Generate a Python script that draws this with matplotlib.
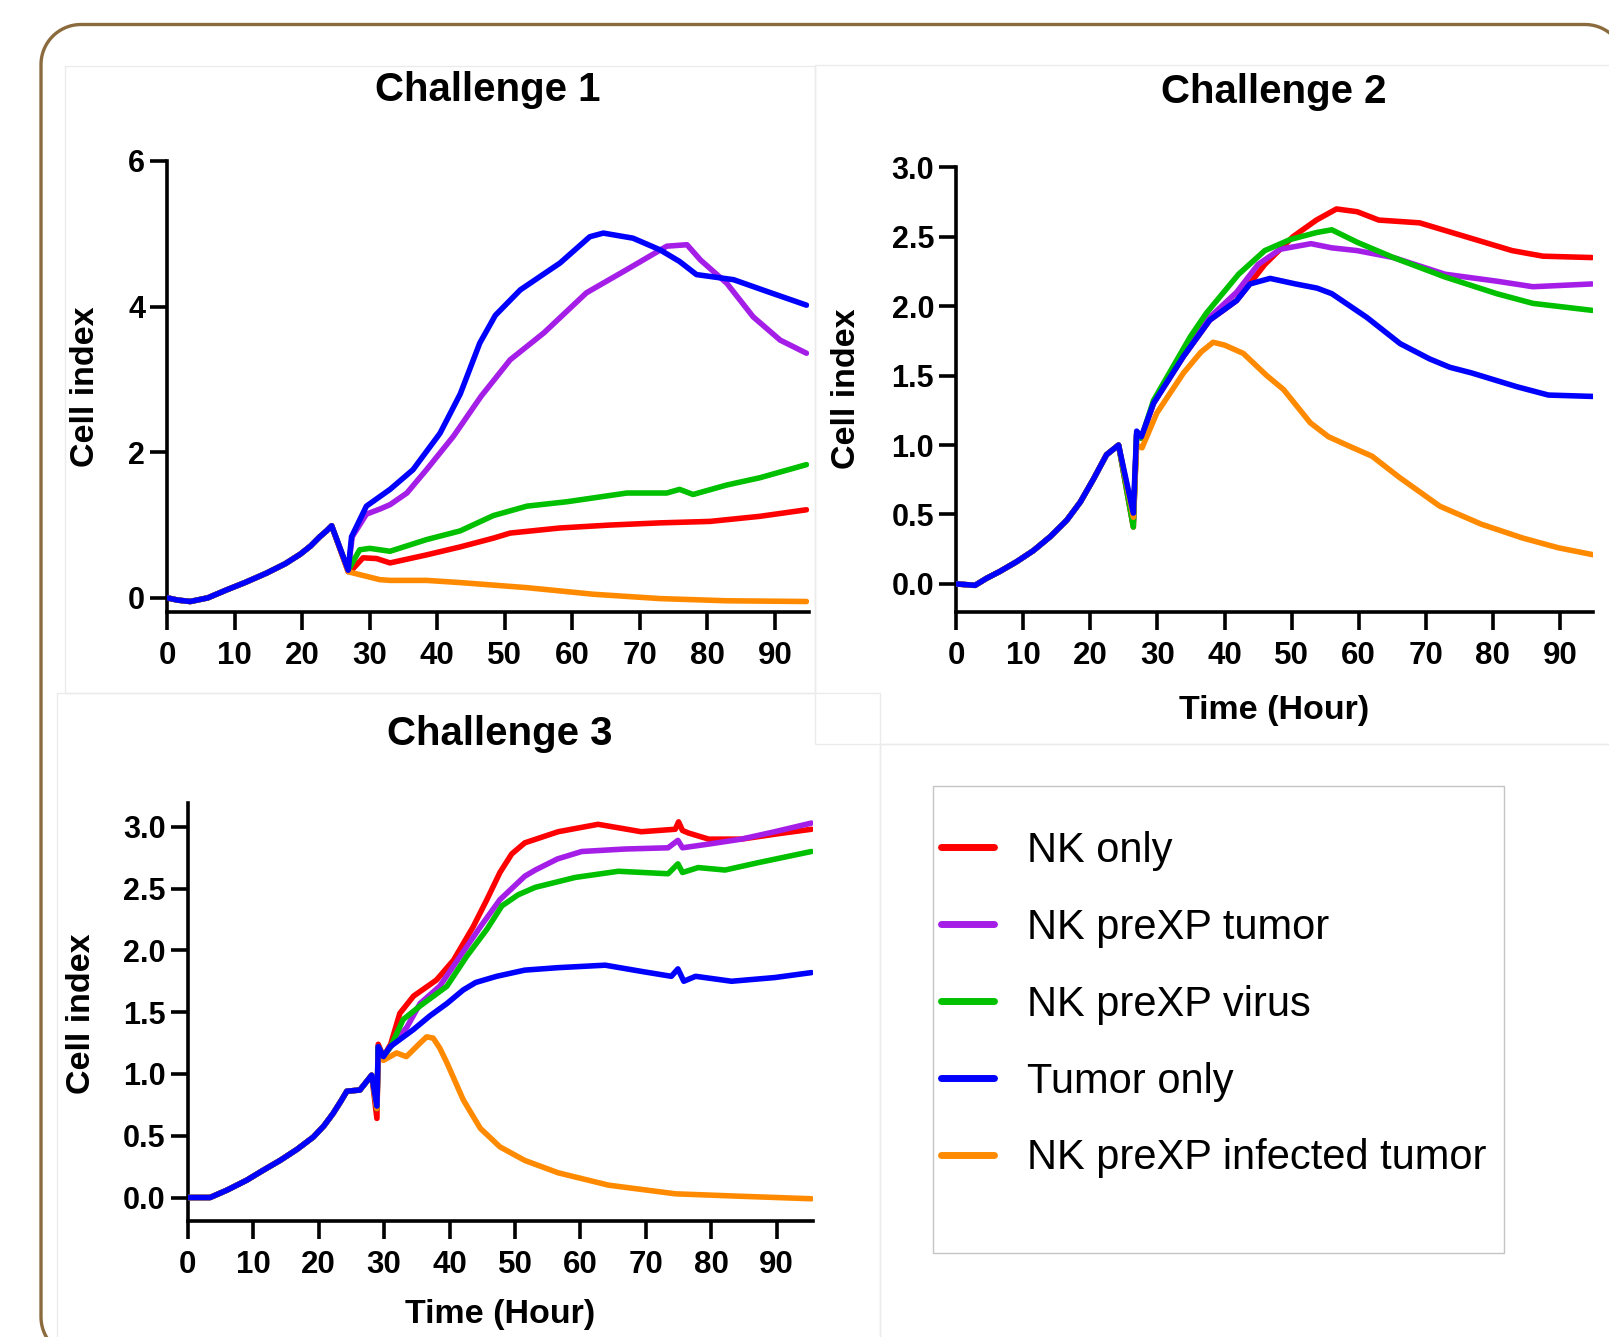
import matplotlib
matplotlib.use("Agg")
import numpy as np
import matplotlib.pyplot as plt
from matplotlib.patches import Rectangle, PathPatch
from matplotlib.path import Path

plt.rcParams['font.family'] = ['Liberation Sans', 'DejaVu Sans']

W, H = 1609, 1337

# ---------------- data (hours, cell index) ----------------
labels = ["NK only", "NK preXP tumor", "NK preXP virus", "Tumor only", "NK preXP infected tumor"]
colors = ["#ff0000", "#a41ee8", "#00c000", "#0000ff", "#ff8a00"]
zorders = [2, 3, 4, 6, 5]

# Challenge 1 -- common part before NK addition
c1_t0 = [0, 1.5, 3.4, 6.0, 8.8, 11.5, 14.7, 17.5, 19.7, 21.2, 22.6, 23.6, 24.35]
c1_v0 = [0, -0.03, -0.05, 0.0, 0.11, 0.21, 0.34, 0.47, 0.60, 0.71, 0.84, 0.92, 0.99]
c1_red_t = [26.8, 27.5, 29.0, 31.0, 33.0, 38.4, 43.4, 48.3, 50.8, 58.2, 65.6, 73.0, 80.4, 87.8, 94.7]
c1_red_v = [0.36, 0.40, 0.55, 0.54, 0.48, 0.59, 0.70, 0.82, 0.89, 0.96, 1.00, 1.03, 1.05, 1.12, 1.21]
c1_pur_t = [26.8, 27.4, 29.5, 31.5, 33.0, 35.5, 38.4, 42.4, 46.5, 50.8, 55.8, 62.1, 68.1, 74.0, 77.0, 79.0, 82.9, 86.8, 90.8, 94.7]
c1_pur_v = [0.38, 0.84, 1.15, 1.22, 1.28, 1.44, 1.76, 2.22, 2.77, 3.27, 3.64, 4.19, 4.51, 4.83, 4.85, 4.64, 4.32, 3.86, 3.54, 3.36]
c1_grn_t = [26.8, 28.5, 30.0, 33.0, 38.4, 43.4, 48.3, 53.3, 59.2, 68.1, 74.0, 75.9, 77.9, 82.9, 87.8, 94.7]
c1_grn_v = [0.38, 0.66, 0.68, 0.64, 0.80, 0.92, 1.13, 1.26, 1.32, 1.44, 1.44, 1.49, 1.42, 1.55, 1.65, 1.83]
c1_blu_t = [26.8, 27.3, 29.5, 33.0, 36.4, 40.4, 43.4, 46.3, 48.6, 52.3, 58.2, 62.6, 64.6, 69.0, 73.0, 75.9, 78.4, 83.9, 88.8, 94.7]
c1_blu_v = [0.38, 0.84, 1.26, 1.49, 1.76, 2.26, 2.80, 3.50, 3.88, 4.23, 4.60, 4.96, 5.01, 4.94, 4.78, 4.62, 4.44, 4.37, 4.21, 4.02]
c1_org_t = [26.8, 27.6, 31.5, 33.0, 38.4, 43.4, 53.3, 63.1, 73.0, 82.9, 94.7]
c1_org_v = [0.36, 0.34, 0.25, 0.24, 0.24, 0.21, 0.14, 0.05, -0.01, -0.04, -0.05]

# Challenge 2
c2_t0 = [0, 2.8, 4.5, 6.5, 9.0, 11.5, 14.0, 16.5, 18.5, 20.4, 22.4, 24.2]
c2_v0 = [0, -0.01, 0.04, 0.09, 0.16, 0.24, 0.34, 0.46, 0.59, 0.75, 0.93, 1.00]
c2_red_t = [26.4, 26.9, 27.6, 29.4, 33.9, 37.8, 41.8, 46.0, 50.2, 53.7, 56.7, 59.8, 63.0, 69.1, 76.0, 82.9, 87.5, 94.8]
c2_red_v = [0.41, 1.08, 1.05, 1.30, 1.64, 1.90, 2.04, 2.30, 2.50, 2.62, 2.70, 2.68, 2.62, 2.60, 2.50, 2.40, 2.36, 2.35]
c2_pur_t = [26.4, 26.9, 27.6, 29.4, 33.9, 37.8, 41.8, 45.0, 48.3, 52.9, 56.0, 59.8, 65.2, 72.9, 80.6, 86.0, 94.8]
c2_pur_v = [0.45, 1.08, 1.05, 1.30, 1.66, 1.92, 2.10, 2.30, 2.41, 2.45, 2.42, 2.40, 2.35, 2.23, 2.18, 2.14, 2.16]
c2_grn_t = [26.4, 26.9, 27.6, 29.4, 34.9, 37.3, 42.1, 46.0, 49.8, 53.7, 56.0, 59.8, 65.2, 72.9, 80.6, 86.0, 94.8]
c2_grn_v = [0.41, 1.08, 1.05, 1.32, 1.78, 1.95, 2.23, 2.40, 2.48, 2.53, 2.55, 2.46, 2.35, 2.21, 2.09, 2.02, 1.97]
c2_blu_t = [26.4, 26.9, 27.6, 29.4, 33.9, 37.8, 41.8, 43.8, 46.8, 50.6, 53.8, 56.0, 61.2, 66.2, 70.6, 73.6, 76.8, 83.6, 88.3, 95.0]
c2_blu_v = [0.51, 1.10, 1.06, 1.30, 1.64, 1.90, 2.04, 2.16, 2.20, 2.16, 2.13, 2.09, 1.92, 1.73, 1.62, 1.56, 1.52, 1.42, 1.36, 1.35]
c2_org_t = [26.4, 26.9, 27.7, 29.9, 33.9, 36.5, 38.3, 40.0, 42.8, 46.3, 48.8, 52.8, 55.5, 58.7, 62.0, 66.0, 72.1, 78.3, 84.5, 89.8, 95.0]
c2_org_v = [0.48, 1.00, 0.98, 1.23, 1.52, 1.67, 1.74, 1.72, 1.66, 1.50, 1.40, 1.16, 1.06, 0.99, 0.92, 0.77, 0.56, 0.43, 0.33, 0.26, 0.21]

# Challenge 3
c3_t0 = [0, 3.4, 6.0, 9.0, 11.5, 14.1, 16.7, 19.2, 20.8, 22.2, 23.4, 24.3, 26.3, 28.1]
c3_v0 = [0, 0, 0.06, 0.14, 0.22, 0.30, 0.39, 0.49, 0.58, 0.68, 0.78, 0.86, 0.87, 0.99]
c3_red_t = [28.9, 29.1, 29.9, 31.0, 32.4, 34.5, 38.0, 40.6, 43.6, 45.7, 47.7, 49.5, 51.5, 56.6, 62.7, 69.3, 74.5, 75.0, 75.6, 76.5, 79.6, 84.6, 89.7, 95.3]
c3_red_v = [0.64, 1.24, 1.14, 1.24, 1.49, 1.63, 1.76, 1.92, 2.19, 2.41, 2.63, 2.78, 2.87, 2.96, 3.02, 2.96, 2.98, 3.04, 2.97, 2.95, 2.90, 2.90, 2.94, 2.98]
c3_pur_t = [28.9, 29.1, 29.9, 31.0, 33.5, 35.5, 38.5, 41.6, 44.7, 47.7, 51.5, 53.1, 56.5, 60.2, 66.8, 73.4, 74.9, 75.6, 79.6, 84.6, 89.7, 95.3]
c3_pur_v = [0.72, 1.22, 1.14, 1.22, 1.38, 1.57, 1.71, 1.95, 2.19, 2.41, 2.60, 2.65, 2.74, 2.80, 2.82, 2.83, 2.89, 2.83, 2.86, 2.90, 2.96, 3.03]
c3_grn_t = [28.9, 29.1, 29.9, 31.0, 32.9, 35.5, 39.6, 42.6, 45.7, 48.0, 50.5, 53.1, 59.2, 65.8, 73.4, 74.9, 75.6, 78.0, 82.1, 87.2, 95.3]
c3_grn_v = [0.72, 1.22, 1.14, 1.22, 1.44, 1.55, 1.71, 1.95, 2.17, 2.36, 2.45, 2.51, 2.59, 2.64, 2.62, 2.70, 2.63, 2.67, 2.65, 2.71, 2.80]
c3_blu_t = [28.9, 29.1, 29.9, 30.9, 34.5, 37.0, 39.6, 42.1, 44.0, 47.2, 51.5, 56.6, 63.8, 69.3, 73.9, 74.9, 75.8, 77.6, 83.1, 89.7, 95.3]
c3_blu_v = [0.74, 1.22, 1.14, 1.22, 1.36, 1.47, 1.57, 1.68, 1.74, 1.79, 1.84, 1.86, 1.88, 1.83, 1.79, 1.85, 1.75, 1.79, 1.75, 1.78, 1.82]
c3_org_t = [28.9, 29.1, 29.9, 31.9, 33.4, 35.5, 36.5, 37.5, 38.5, 39.6, 42.1, 44.7, 47.7, 51.5, 56.6, 64.3, 74.5, 84.6, 95.3]
c3_org_v = [0.72, 1.15, 1.11, 1.17, 1.14, 1.25, 1.30, 1.29, 1.21, 1.09, 0.79, 0.56, 0.41, 0.30, 0.20, 0.10, 0.03, 0.01, -0.01]

x_ticks = [0, 10, 20, 30, 40, 50, 60, 70, 80, 90]
y_ticks_1 = [0, 2, 4, 6]
y_ticks_23 = [0.0, 0.5, 1.0, 1.5, 2.0, 2.5, 3.0]

panels = [
    dict(title="Challenge 1", t0=c1_t0, v0=c1_v0,
         series=[(c1_red_t, c1_red_v), (c1_pur_t, c1_pur_v), (c1_grn_t, c1_grn_v), (c1_blu_t, c1_blu_v), (c1_org_t, c1_org_v)],
         box=(167.3, 161.0, 808.5, 611.7), xlim=(0, 95.0), ylim=(-0.19, 6.0), yticks=y_ticks_1, yfmt="{:.0f}",
         title_xy=(488, 90), ylabel_xy=(86, 387), xlabel_xy=None),
    dict(title="Challenge 2", t0=c2_t0, v0=c2_v0,
         series=[(c2_red_t, c2_red_v), (c2_pur_t, c2_pur_v), (c2_grn_t, c2_grn_v), (c2_blu_t, c2_blu_v), (c2_org_t, c2_org_v)],
         box=(956.3, 167.3, 1593.3, 611.7), xlim=(0, 95.0), ylim=(-0.2, 3.0), yticks=y_ticks_23, yfmt="{:.1f}",
         title_xy=(1274, 92), ylabel_xy=(847, 389), xlabel_xy=(1274, 710)),
    dict(title="Challenge 3", t0=c3_t0, v0=c3_v0,
         series=[(c3_red_t, c3_red_v), (c3_pur_t, c3_pur_v), (c3_grn_t, c3_grn_v), (c3_blu_t, c3_blu_v), (c3_org_t, c3_org_v)],
         box=(187.8, 803.3, 812.7, 1221.0), xlim=(0, 95.5), ylim=(-0.19, 3.19), yticks=y_ticks_23, yfmt="{:.1f}",
         title_xy=(500, 734), ylabel_xy=(82, 1014), xlabel_xy=(500, 1315)),
]

fig = plt.figure(figsize=(W / 100, H / 100), dpi=100)
fig.patch.set_facecolor("white")


def fx(px):
    return px / W


def fy(py):
    return 1 - py / H


# faint panel outlines
for (x0, y0, x1, y1) in [(65, 66, 815, 693), (815, 65, 1620, 744), (57, 693, 880, 1345), (880, 744, 1620, 1345)]:
    fig.add_artist(Rectangle((fx(x0), fy(y1)), fx(x1) - fx(x0), fy(y0) - fy(y1), transform=fig.transFigure,
                             fill=False, edgecolor="#ebebeb", linewidth=1.0, zorder=0))

# rounded brown frame (polyline, extends past right and bottom edges)
fr_l, fr_t, fr_r, fr_b, rad = 41, 24.5, 1625, 1357, 40
corner_specs = [((fr_l + rad, fr_t + rad), 180, 270),   # top-left
                ((fr_r - rad, fr_t + rad), 270, 360),   # top-right
                ((fr_r - rad, fr_b - rad), 0, 90),      # bottom-right
                ((fr_l + rad, fr_b - rad), 90, 180)]    # bottom-left
pts = []
for (cx, cy), a0, a1 in corner_specs:
    ang = np.radians(np.linspace(a0, a1, 24))
    for a in ang:
        pts.append((fx(cx + rad * np.cos(a)), fy(cy + rad * np.sin(a))))
pts.append(pts[0])
frame_path = Path(pts)
fig.add_artist(PathPatch(frame_path, transform=fig.transFigure, fill=False,
                         edgecolor="#8b6b3d", linewidth=2.4, zorder=1))

handles = None
for p in panels:
    l, t, r, b = p["box"]
    ax = fig.add_axes([fx(l), fy(b), fx(r) - fx(l), fy(t) - fy(b)])
    ax.set_facecolor("none")
    lines = []
    for (ts, vs), c, lab, z in zip(p["series"], colors, labels, zorders):
        ln, = ax.plot(list(p["t0"]) + list(ts), list(p["v0"]) + list(vs), color=c, lw=4.0, label=lab,
                      zorder=z, solid_joinstyle="round", solid_capstyle="round")
        lines.append(ln)
    if handles is None:
        handles = lines
    ax.set_xlim(*p["xlim"])
    ax.set_ylim(*p["ylim"])
    ax.set_xticks(x_ticks)
    ax.set_xticklabels([str(v) for v in x_ticks], fontsize=22.5, fontweight="bold")
    ax.set_yticks(p["yticks"])
    ax.set_yticklabels([p["yfmt"].format(v) for v in p["yticks"]], fontsize=22, fontweight="bold")
    for s in ["top", "right"]:
        ax.spines[s].set_visible(False)
    for s in ["left", "bottom"]:
        ax.spines[s].set_linewidth(2.6)
    ax.tick_params(axis="x", length=12.8, width=2.6, pad=8)
    ax.tick_params(axis="y", length=12, width=2.6, pad=4)
    fig.text(fx(p["title_xy"][0]), fy(p["title_xy"][1]), p["title"], ha="center", va="center",
             fontsize=29, fontweight="bold")
    fig.text(fx(p["ylabel_xy"][0]), fy(p["ylabel_xy"][1]), "Cell index", ha="center", va="center",
             rotation=90, fontsize=24.5, fontweight="bold")
    if p["xlabel_xy"] is not None:
        fig.text(fx(p["xlabel_xy"][0]), fy(p["xlabel_xy"][1]), "Time (Hour)", ha="center", va="center",
                 fontsize=24.5, fontweight="bold")

# legend box + legend
fig.add_artist(Rectangle((fx(932.6), fy(1253)), fx(1503.6) - fx(932.6), fy(786.5) - fy(1253),
                         transform=fig.transFigure, fill=False, edgecolor="#c4c4c4", linewidth=1.0))
leg = fig.legend(handles, labels, loc="upper left",
                 bbox_to_anchor=(fx(941), fy(831)), frameon=False, fontsize=30,
                 handlelength=1.26, handletextpad=0.80, labelspacing=0.885,
                 borderpad=0, borderaxespad=0)
for lh in leg.get_lines():
    lh.set_linewidth(5.0)

fig.savefig("out.png", dpi=100)
